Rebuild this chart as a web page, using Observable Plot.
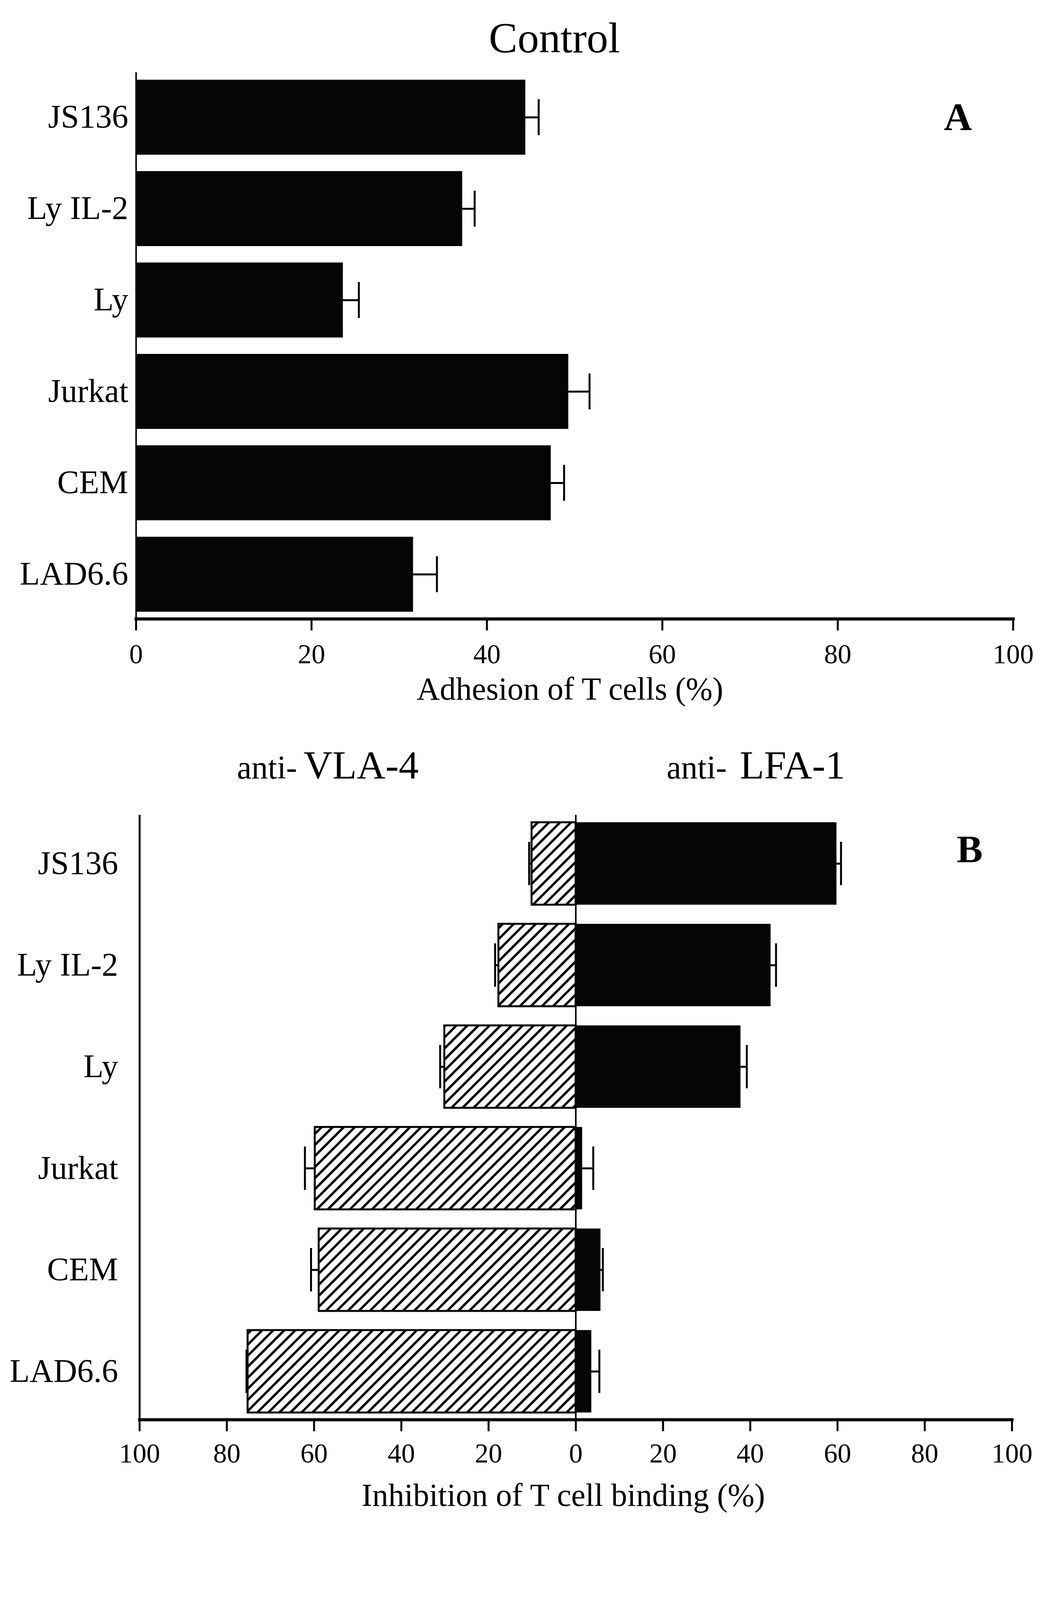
<!DOCTYPE html>
<html>
<head>
<meta charset="utf-8">
<script src="https://cdn.jsdelivr.net/npm/d3@7"></script>
<script src="https://cdn.jsdelivr.net/npm/@observablehq/plot@0.6"></script>
<style>
  body { margin: 0; background: #fff; }
  #chart svg { display: block; }
</style>
</head>
<body>
<div id="chart"></div>
<script>
// ---------- data ----------
const cells = ["JS136", "Ly IL-2", "Ly", "Jurkat", "CEM", "LAD6.6"];

// Panel A: Control adhesion (%)
const controlMean = [44.4, 37.2, 23.6, 49.3, 47.3, 31.6];
const controlSd   = [1.5, 1.4, 1.8, 2.4, 1.5, 2.7];

// Panel B: inhibition (%) by anti-VLA-4 (left) and anti-LFA-1 (right)
const vla4Mean = [10.1, 17.7, 30.1, 59.8, 58.9, 75.2];
const vla4Sd   = [0.6, 0.8, 1.0, 2.3, 1.8, 0.3];
const lfa1Mean = [59.8, 44.7, 37.8, 1.5, 5.7, 3.6];
const lfa1Sd   = [1.0, 1.2, 1.4, 2.5, 0.5, 1.8];

// Panel C: inhibition (%) by anti-VLA-4 + anti-LFA-1
const comboMean = [64.1, 57.0, 59.2, 61.4, 56.1, 73.4];
const comboSd   = [2.0, 1.9, 1.6, 1.3, 3.4, 1.1];

const ticksAC = [0, 20, 40, 60, 80, 100];
const ticksB  = [-100, -80, -60, -40, -20, 0, 20, 40, 60, 80, 100];

const titleA = "Control";
const xLabelA = "Adhesion of T cells (%)";
const xLabelBC = "Inhibition of T cell binding (%)";

// title pieces: [text, x (data units), anchor, font size]
const titleB = [
  ["anti-", -63.9, "end", 84], ["VLA-4", -62.4, "start", 102],
  ["anti-", 34.6, "end", 84], ["LFA-1", 37.6, "start", 102]
];
const titleC = [
  ["anti-", 27.3, "end", 74], ["VLA-4", 29.8, "start", 102],
  ["+", 46.0, "middle", 70],
  ["anti-", 55.4, "end", 74], ["LFA-1", 56.7, "start", 102]
];
// panel letters: letter, x (data units), row
const letterA = [{t: "A", x: 93.7, y: cells[0]}];
const letterB = [{t: "B", x: 90.3, y: cells[0]}];
const letterC = [{t: "C", x: 94.9, y: cells[0]}];

// ---------- helpers ----------
const W = 2676;
const FONT = "'Liberation Serif', 'Times New Roman', Times, serif";
const STYLE = {fontFamily: FONT, fontSize: "70px", background: "#fff", color: "#000", overflow: "visible"};

function rows(means, sds, sign = 1) {
  return cells.map((c, i) => ({cell: c, value: sign * means[i], cap: sign * (means[i] + sds[i])}));
}
function errorMarks(d) {
  return [
    Plot.ruleY(d, {y: "cell", x1: "value", x2: "cap", stroke: "#000", strokeWidth: 5}),
    Plot.tickX(d, {x: "cap", y: "cell", stroke: "#000", strokeWidth: 5, insetTop: 50, insetBottom: 50})
  ];
}
function titleMarks(pieces, dy) {
  return pieces.map(([t, x, anchor, size]) =>
    Plot.text([t], {x: x, frameAnchor: "top", text: d => d, textAnchor: anchor,
      lineAnchor: "bottom", dy: dy, fontSize: size, fill: "#000"}));
}

const chart = document.getElementById("chart");

// ---------- Panel A ----------
const dA = rows(controlMean, controlSd);
const svgA = Plot.plot({
  width: W, height: 1800,
  marginTop: 185, marginBottom: 216, marginLeft: 348, marginRight: 82,
  style: STYLE,
  x: {domain: [0, 100]},
  y: {domain: cells, paddingInner: 0.18, paddingOuter: 0.067},
  marks: [
    Plot.barX(dA, {x: "value", y: "cell", fill: "#050505"}),
    ...errorMarks(dA),
    Plot.ruleX([0], {stroke: "#000", strokeWidth: 4}),
    Plot.frame({anchor: "bottom", stroke: "#000", strokeWidth: 8}),
    Plot.axisX({ticks: ticksAC, tickSize: 30, tickPadding: 34, strokeWidth: 5, label: null, fontSize: 70}),
    Plot.axisY({tickSize: 0, tickPadding: 20, label: null, fontSize: 84}),
    Plot.text([titleA], {x: 47.7, frameAnchor: "top", text: d => d, lineAnchor: "bottom", dy: -52, fontSize: 110}),
    Plot.text([xLabelA], {frameAnchor: "bottom", text: d => d, dy: 206, dx: -12, fontSize: 82}),
    Plot.text(letterA, {x: "x", y: "y", text: "t", fontSize: 100, fontWeight: "bold"})
  ]
});

// ---------- Panel B ----------
const dV = rows(vla4Mean, vla4Sd, -1);
const dL = rows(lfa1Mean, lfa1Sd, 1);
const svgB = Plot.plot({
  width: W, height: 2100,
  marginTop: 286, marginBottom: 266, marginLeft: 357, marginRight: 85,
  style: STYLE,
  x: {domain: [-100, 100]},
  y: {domain: cells, paddingInner: 0.19, paddingOuter: 0.065},
  marks: [
    Plot.barX(dV, {x: "value", y: "cell", fill: "url(#hatchB)", stroke: "#000", strokeWidth: 5}),
    Plot.barX(dL, {x: "value", y: "cell", fill: "#050505"}),
    ...errorMarks(dV),
    ...errorMarks(dL),
    Plot.ruleX([-100], {stroke: "#000", strokeWidth: 5}),
    Plot.ruleX([0], {stroke: "#000", strokeWidth: 4}),
    Plot.frame({anchor: "bottom", stroke: "#000", strokeWidth: 8}),
    Plot.axisX({ticks: ticksB, tickFormat: d => Math.abs(d), tickSize: 30, tickPadding: 30, strokeWidth: 5, label: null, fontSize: 70}),
    Plot.axisY({tickSize: 0, tickPadding: 55, label: null, fontSize: 84}),
    ...titleMarks(titleB, -94),
    Plot.text([xLabelBC], {frameAnchor: "bottom", text: d => d, dy: 220, dx: -32, fontSize: 82}),
    Plot.text(letterB, {x: "x", y: "y", text: "t", dy: -36, fontSize: 100, fontWeight: "bold"})
  ]
});
// hatch pattern definition
(function addHatch(svg) {
  const NS = "http://www.w3.org/2000/svg";
  const defs = document.createElementNS(NS, "defs");
  const pat = document.createElementNS(NS, "pattern");
  pat.setAttribute("id", "hatchB");
  pat.setAttribute("patternUnits", "userSpaceOnUse");
  pat.setAttribute("width", "20");
  pat.setAttribute("height", "20");
  pat.setAttribute("patternTransform", "rotate(45)");
  const bg = document.createElementNS(NS, "rect");
  bg.setAttribute("width", "20"); bg.setAttribute("height", "20"); bg.setAttribute("fill", "#fff");
  const ln = document.createElementNS(NS, "line");
  ln.setAttribute("x1", "10"); ln.setAttribute("y1", "-2");
  ln.setAttribute("x2", "10"); ln.setAttribute("y2", "22");
  ln.setAttribute("stroke", "#000"); ln.setAttribute("stroke-width", "6");
  pat.appendChild(bg); pat.appendChild(ln);
  defs.appendChild(pat);
  svg.insertBefore(defs, svg.firstChild);
})(svgB);

// ---------- Panel C ----------
const dC = rows(comboMean, comboSd);
const svgC = Plot.plot({
  width: W, height: 1949,
  marginTop: 305, marginBottom: 222, marginLeft: 360, marginRight: 63,
  style: STYLE,
  x: {domain: [0, 100]},
  y: {domain: cells, paddingInner: 0.17, paddingOuter: 0.09},
  marks: [
    Plot.barX(dC, {x: "value", y: "cell", fill: "#050505"}),
    ...errorMarks(dC),
    Plot.ruleX([0], {stroke: "#000", strokeWidth: 4}),
    Plot.frame({anchor: "bottom", stroke: "#000", strokeWidth: 8}),
    Plot.axisX({ticks: ticksAC, tickSize: 30, tickPadding: 27, strokeWidth: 5, label: null, fontSize: 70}),
    Plot.axisY({tickSize: 0, tickPadding: 44, label: null, fontSize: 84}),
    ...titleMarks(titleC, -30),
    Plot.text([xLabelBC], {frameAnchor: "bottom", text: d => d, dy: 198, dx: -52, fontSize: 82}),
    Plot.text(letterC, {x: "x", y: "y", text: "t", dy: -13, fontSize: 108})
  ]
});

chart.appendChild(svgA);
chart.appendChild(svgB);
chart.appendChild(svgC);
</script>
</body>
</html>
